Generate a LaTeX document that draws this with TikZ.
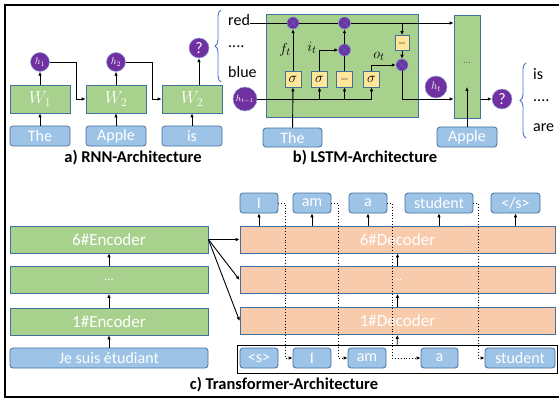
\documentclass[tikz,border=0pt]{standalone}
\usepackage{fontspec}
\setmainfont{Carlito}
\usetikzlibrary{arrows.meta,decorations.pathreplacing,calc}
\definecolor{gfill}{HTML}{A9D18E}
\definecolor{bfill}{HTML}{9DC3E6}
\definecolor{ofill}{HTML}{F8CBAD}
\definecolor{yfill}{HTML}{FFE699}
\definecolor{edge}{HTML}{41719C}
\definecolor{purp}{HTML}{7030A0}
\definecolor{brc}{HTML}{4472C4}
\begin{document}
\begin{tikzpicture}[x=1pt,y=-1pt,
  fs/.style={font=\fontsize{#1}{#1}\selectfont},
  gbox/.style={draw=edge, fill=gfill, line width=0.8pt, inner sep=0pt, text=white},
  obox/.style={draw=edge, fill=ofill, line width=0.8pt, inner sep=0pt, text=white,
    minimum width=315pt, minimum height=27pt, fs=17},
  tok/.style={draw=edge, fill=bfill, line width=0.8pt, rounded corners=3pt, inner sep=0pt,
    text=white, minimum height=20pt, fs=16},
  hc/.style={circle, fill=purp, draw=brc!60, line width=0.5pt, inner sep=0pt, text=white},
  ybox/.style={draw=edge, fill=yfill, line width=0.7pt, inner sep=0pt,
    minimum width=16pt, minimum height=16pt},
  mul/.style={circle, fill=purp, draw=brc!70, line width=0.5pt, minimum size=12pt, inner sep=0pt,
    path picture={\draw[brc!80!purp, line width=0.6pt]
      (path picture bounding box.north west) -- (path picture bounding box.south east)
      (path picture bounding box.north east) -- (path picture bounding box.south west);}},
  arr/.style={-{Latex[length=4pt,width=3.6pt]}, line width=0.9pt},
  ln/.style={line width=0.9pt},
  dots/.style={dotted, line width=0.9pt, -{Latex[length=4pt,width=3.6pt]}},
  lab/.style={font=\fontsize{16.5}{18}\selectfont\bfseries},
  brtext/.style={fs=16, anchor=west, inner sep=0pt},
  brace/.style={decorate, decoration={brace, amplitude=6pt}, draw=brc, line width=0.9pt}]

\useasboundingbox (0,0) rectangle (559,401);
% outer frame
\draw[line width=1.6pt] (559,5) -- (5,5) -- (5,397) -- (559,397);

% ---------------- a) RNN ----------------
\node[gbox, minimum width=60pt, minimum height=28pt, fs=17] (w1) at (40,99) {$W_1$};
\node[gbox, minimum width=60pt, minimum height=28pt, fs=17] (w2) at (116,99) {$W_2$};
\node[gbox, minimum width=60pt, minimum height=28pt, fs=17] (w3) at (192,99) {$W_2$};
\node[tok, minimum width=60pt] (r1) at (40,136) {The};
\node[tok, minimum width=60pt] (r2) at (116,136) {Apple};
\node[tok, minimum width=60pt] (r3) at (192,136) {is};
\node[hc, minimum size=19pt, fs=10] (h1) at (40,62) {$h_1$};
\node[hc, minimum size=19pt, fs=10] (h2) at (116,62) {$h_2$};
\node[hc, minimum size=20pt, fs=16] (rq) at (199,48) {?};
\draw[arr] (r1) -- (w1);
\draw[arr] (r2) -- (w2);
\draw[arr] (r3) -- (w3);
\draw[arr] (w1) -- (h1);
\draw[arr] (w2) -- (h2);
\draw[arr] (rq |- w3.north) -- (rq);
\draw[arr] (h1.east) -- (76,62) -- (76,99) -- (w2.west);
\draw[arr] (h2.east) -- (152,62) -- (152,99) -- (w3.west);
\node[lab] (la) at (133,158) {a) RNN-Architecture};

% ---------------- b) LSTM ----------------
\draw[brace] (221,82) -- (221,10);
\node[brtext] (lred) at (228,20) {red};
\node[brtext] (ldots1) at (228,47) {....};
\node[brtext] (lblue) at (228,72) {blue};

\node[gbox, minimum width=152pt, minimum height=103pt] (cell) at (342,65.5) {};
\node[gbox, minimum width=26pt, minimum height=103pt] (g2) at (467,66.5) {};
\node[fs=10, text=black!60] (gdots) at (467,63) {...};

\node[mul] (m1) at (293,23) {};
\node[mul] (m2) at (344.5,23) {};
\node[mul] (m3) at (344.5,50) {};
\node[mul] (m4) at (402,65) {};
\node[ybox, minimum width=14pt, minimum height=15pt, fs=3.5, text=black!70] (tb1) at (402,43) {tanh};
\node[ybox, fs=15] (s1) at (293,79) {$\sigma$};
\node[ybox, fs=15] (s2) at (319.5,79) {$\sigma$};
\node[ybox, fs=3.5, text=black!70] (tb2) at (344.5,79) {tanh};
\node[ybox, fs=15] (s3) at (371.5,79) {$\sigma$};

\node[hc, minimum size=24pt, fs=9] (ht1) at (245,99) {$h_{t-1}$};
\node[hc, minimum size=22pt, fs=11] (ht) at (436,87) {$h_t$};
\node[hc, minimum size=20pt, fs=16] (lq) at (502,99) {?};
\node[tok, minimum width=59pt, minimum height=19pt] (lt) at (292.5,137.5) {The};
\node[tok, minimum width=60pt] (lap) at (467,137) {Apple};
\coordinate (gin) at (467,87);
\coordinate (k) at (402,23);

% cell state line
\draw[ln] (lred.east |- m1) -- (m1) -- (m2) -- (k);
\draw[arr] (k) -- (g2.west |- k);
\draw[arr] (k) -- (tb1);
\draw[arr] (tb1) -- (m4);
% hidden state input line and gates
\draw[ln] (ht1) -- (s3 |- ht1);
\draw[arr] (s2 |- ht1) -- (s2);
\draw[arr] (tb2 |- ht1) -- (tb2);
\draw[arr] (s3 |- ht1) -- (s3);
\draw[arr] (lt) -- (s1);
\draw[arr] (s1) -- (m1);
\draw[arr] (s2) -- (s2 |- m3) -- (m3);
\draw[ln] (tb2) -- (m3);
\draw[arr] (m3) -- (m2);
\draw[arr] (s3) -- (s3 |- m4) -- (m4);
\draw[arr] (m4) -- (m4 |- ht1) -- (g2.west |- ht1);
\draw[arr] (g2.east |- lq) -- (lq);
\draw[arr] (lap) -- (gin);
\node[fs=15] (ft) at (285,50) {$f_t$};
\node[fs=15] (it) at (312,48) {$i_t$};
\node[fs=15] (ot) at (379,56) {$o_t$};

\draw[brace] (526,138) -- (526,63);
\node[brtext] (ris) at (533,74) {is};
\node[brtext] (rdots) at (533,101) {....};
\node[brtext] (rare) at (533,128) {are};
\node[lab] (lb) at (365,158) {b) LSTM-Architecture};

% ---------------- c) Transformer ----------------
\node[gbox, minimum width=198pt, minimum height=27pt, fs=17] (enc6) at (109,239.5) {6\#Encoder};
\node[gbox, minimum width=198pt, minimum height=27pt, fs=12] (encm) at (109,280) {...};
\node[gbox, minimum width=198pt, minimum height=27pt, fs=17] (enc1) at (109,321.5) {1\#Encoder};
\node[tok, minimum width=198pt] (je) at (109,358) {Je suis étudiant};
\draw[arr] (je) -- (enc1);
\draw[arr] (enc1) -- (encm);
\draw[arr] (encm) -- (enc6);

\node[draw=black, line width=1pt, minimum width=320pt, minimum height=28pt, inner sep=0pt] (inf) at (397,359) {};
\node[obox] (dec6) at (397.5,239.5) {6\#Decoder};
\node[obox, fs=12] (decm) at (397.5,280) {...};
\node[obox] (dec1) at (397.5,321) {1\#Decoder};

\node[tok, minimum width=38pt] (oI) at (259,203) {I};
\node[tok, minimum width=38pt] (oam) at (312,203) {am};
\node[tok, minimum width=38pt] (oa) at (368,203) {a};
\node[tok, minimum width=68pt] (ostu) at (439,203) {student};
\node[tok, minimum width=49pt] (oend) at (515.5,203) {</s>};

\node[tok, minimum width=38pt] (iS) at (259,358) {<s>};
\node[tok, minimum width=38pt] (iI) at (312,358) {I};
\node[tok, minimum width=38pt] (iam) at (367,358) {am};
\node[tok, minimum width=37pt] (ia) at (439.5,358) {a};
\node[tok, minimum width=70pt] (istu) at (520,358) {student};

\draw[arr] (enc6.east) -- (dec6.west);
\draw[arr] (enc6.east) -- (decm.west);
\draw[arr] (enc6.east) -- (dec1.west);
\draw[arr] (inf) -- (dec1);
\draw[arr] (dec1) -- (decm);
\draw[arr] (decm) -- (dec6);
\foreach \t in {oI,oam,oa,ostu,oend}
  \draw[arr] (\t |- dec6.north) -- (\t);

\draw[dots] (oI.east) -- ++(7,0) |- (iI.west);
\draw[dots] (oam.east) -- ++(7,0) |- (iam.west);
\draw[dots] (oa.east) -- ++(5,0) |- (ia.west);
\draw[dots] (ostu.east) -- ++(5,0) |- (istu.west);

\node[lab] (lc) at (284,385) {c) Transformer-Architecture};
\end{tikzpicture}
\end{document}
